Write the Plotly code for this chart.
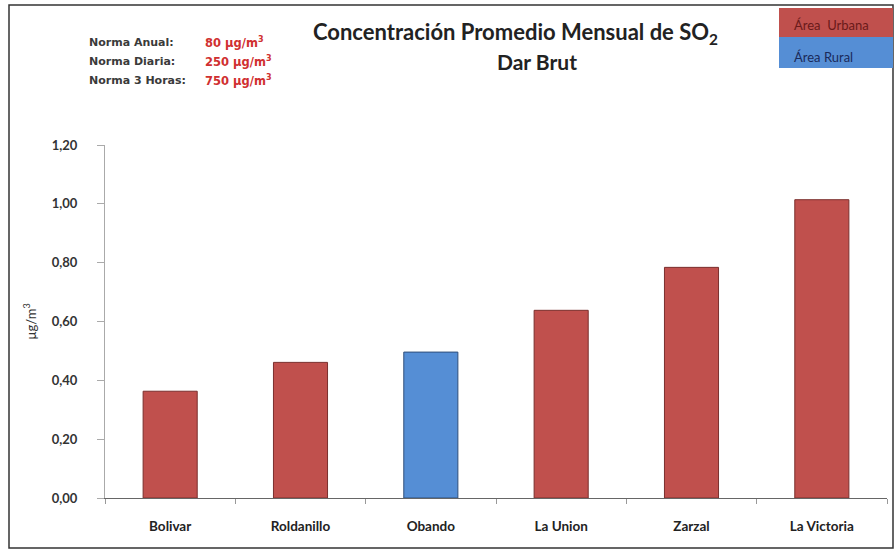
import plotly.graph_objects as go

categories = ["Bolivar", "Roldanillo", "Obando", "La Union", "Zarzal", "La Victoria"]
values = [0.363, 0.461, 0.496, 0.638, 0.784, 1.014]
area = ["Urbana", "Urbana", "Rural", "Urbana", "Urbana", "Urbana"]
y_ticks = [0, 0.2, 0.4, 0.6, 0.8, 1.0, 1.2]

RED = "#C0504D"
BLUE = "#558ED5"
colors = [RED if a == "Urbana" else BLUE for a in area]
edges = ["#7a2f2d" if a == "Urbana" else "#2f4f7a" for a in area]

W, H = 894, 550
L, R, T, B = 105, 7, 145, 52
PW, PH = W - L - R, H - T - B

def px(x):
    return (x - L) / PW

def py(y):
    return (H - B - y) / PH

fig = go.Figure(go.Bar(
    x=categories, y=values,
    marker=dict(color=colors, line=dict(color=edges, width=1)),
    width=0.415,
))

font = "Lato, 'Open Sans', sans-serif"
font2 = "'DejaVu Sans', Verdana, sans-serif"

fig.update_layout(
    width=W, height=H,
    margin=dict(l=L, r=R, t=T, b=B),
    paper_bgcolor="white", plot_bgcolor="white",
    separators=",.",
    showlegend=False,
    font=dict(family=font, color="#333"),
    xaxis=dict(
        showline=True, linecolor="#666", linewidth=1,
        ticks="outside", tickson="boundaries", ticklen=5, tickcolor="#999",
        tickfont=dict(size=13.5, color="#222", family=font, weight="bold"),
        ticklabelstandoff=16,
        showgrid=False,
    ),
    yaxis=dict(
        range=[0, 1.2], tickvals=y_ticks, tickformat=".2f",
        showline=True, linecolor="#aaa", linewidth=1,
        ticks="outside", ticklen=7, tickcolor="#aaa",
        tickfont=dict(size=13, color="#333", family=font, weight="bold"),
        ticklabelstandoff=17,
        showgrid=False, zeroline=False,
        title=dict(text="µg/m<sup>3</sup>", font=dict(size=13, color="#333"), standoff=12),
    ),
)

# frame
fig.add_shape(type="rect", xref="paper", yref="paper",
              x0=px(9), x1=px(893), y0=py(548), y1=py(5),
              line=dict(color="#333", width=1.5), layer="below")

# title
fig.add_annotation(xref="paper", yref="paper", x=px(515), y=py(33),
                   text="<b>Concentración Promedio Mensual de SO<sub>2</sub></b>",
                   showarrow=False, font=dict(size=22, color="#222", family=font),
                   xanchor="center", yanchor="middle")
fig.add_annotation(xref="paper", yref="paper", x=px(537), y=py(61),
                   text="<b>Dar Brut</b>",
                   showarrow=False, font=dict(size=21, color="#222", family=font),
                   xanchor="center", yanchor="middle")

# norms
norm_labels = ["Norma Anual:", "Norma Diaria:", "Norma 3 Horas:"]
norm_values = ["80 µg/m<sup>3</sup>", "250 µg/m<sup>3</sup>", "750 µg/m<sup>3</sup>"]
for i, (lab, val) in enumerate(zip(norm_labels, norm_values)):
    yy = 42 + i * 19.5
    fig.add_annotation(xref="paper", yref="paper", x=px(87), y=py(yy), text="<b>" + lab + "</b>",
                       showarrow=False, xanchor="left", yanchor="middle",
                       font=dict(size=11, color="#3a3a3a", family=font2))
    fig.add_annotation(xref="paper", yref="paper", x=px(203), y=py(yy), text="<b>" + val + "</b>",
                       showarrow=False, xanchor="left", yanchor="middle",
                       font=dict(size=11.5, color="#D03030", family=font2))

# legend boxes
fig.add_shape(type="rect", xref="paper", yref="paper", x0=px(779), x1=px(893), y0=py(37), y1=py(8),
              fillcolor=RED, line=dict(width=0))
fig.add_shape(type="rect", xref="paper", yref="paper", x0=px(779), x1=px(893), y0=py(68), y1=py(37),
              fillcolor=BLUE, line=dict(width=0))
fig.add_annotation(xref="paper", yref="paper", x=px(792), y=py(25), text="Área  Urbana",
                   showarrow=False, xanchor="left", yanchor="middle",
                   font=dict(size=13, color="#6a1a1a", family=font))
fig.add_annotation(xref="paper", yref="paper", x=px(792), y=py(57), text="Área Rural",
                   showarrow=False, xanchor="left", yanchor="middle",
                   font=dict(size=13, color="#1a2a5a", family=font))

fig.write_html("out.html", post_script="document.body.style.margin='0px';",
               config={"displayModeBar": False})
